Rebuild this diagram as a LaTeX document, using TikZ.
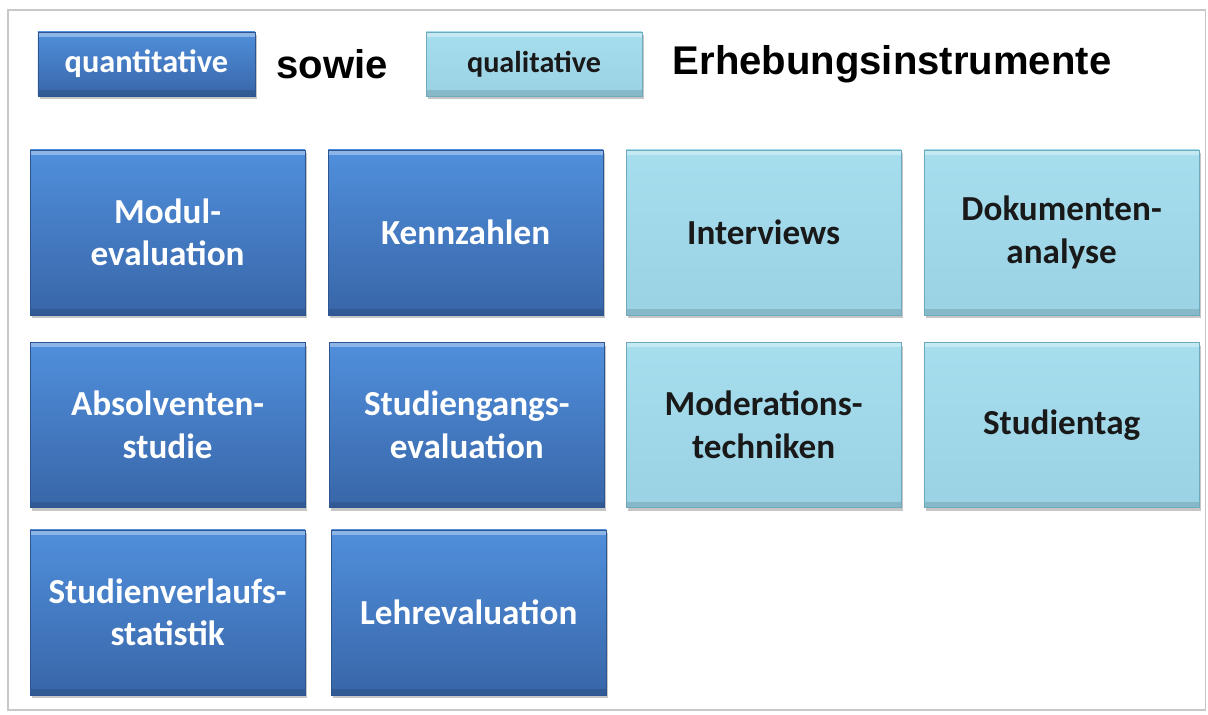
\documentclass[tikz,border=0pt]{standalone}
\usepackage{fontspec}
\setmainfont{Liberation Sans}
\newfontfamily\calfont{Carlito}
\usepackage{tikz}
\usetikzlibrary{positioning,shadows}
\definecolor{quanttop}{RGB}{80,143,220}
\definecolor{quantbot}{RGB}{56,102,168}
\definecolor{quantedge}{RGB}{45,85,145}
\definecolor{qualtop}{RGB}{166,222,238}
\definecolor{qualbot}{RGB}{154,210,228}
\definecolor{qualedge}{RGB}{110,170,190}
\definecolor{frame}{RGB}{200,200,200}
\tikzstyle{bevel}=[drop shadow={shadow xshift=0.04cm, shadow yshift=-0.08cm, opacity=0.45},
    path picture={
      \fill[white, opacity=0.35] (path picture bounding box.north west) rectangle ([yshift=-0.12cm]path picture bounding box.north east);
      \fill[black, opacity=0.12] (path picture bounding box.south west) rectangle ([yshift=0.14cm]path picture bounding box.south east);
    }]
\tikzstyle{quant}=[bevel, draw=quantedge, top color=quanttop, bottom color=quantbot, text=white,
    minimum width=6.875cm, minimum height=4.125cm, align=center,
    font=\calfont\bfseries\fontsize{25}{30}\selectfont]
\tikzstyle{qual}=[quant, draw=qualedge, top color=qualtop, bottom color=qualbot, text=black!90]
\tikzstyle{keyquant}=[quant, minimum width=5.425cm, minimum height=1.6cm, font=\calfont\bfseries\fontsize{23}{26}\selectfont]
\tikzstyle{keyqual}=[qual, minimum width=5.4cm, minimum height=1.6cm, font=\calfont\bfseries\fontsize{21.5}{24}\selectfont]
\tikzstyle{heading}=[font=\bfseries\fontsize{28.5}{32}\selectfont]

\begin{document}
\begin{tikzpicture}[node distance=7.45cm]
    \useasboundingbox (0,0) rectangle (30.2,-17.875);
    \draw [frame, line width=0.8pt] (0.2,-0.25) rectangle (30.13,-17.75);
    %
    \node (quant) [keyquant] at (3.66,-1.6) {quantitative};
    \node (sowie) [heading, right of=quant, node distance=4.64cm] {sowie};
    \node (qual) [keyqual, right of=sowie, node distance=5.05cm] {qualitative};
    \node (erheb) [heading, right of=qual, node distance=8.95cm] {Erhebungsinstrumente};
    %
    \node (modul) [quant] at (4.19,-5.81) {Modul-\\evaluation};
    \node (kenn) [quant, right of=modul] {Kennzahlen};
    \node (interv) [qual, right of=kenn] {Interviews};
    \node (dokum) [qual, right of=interv] {Dokumenten-\\analyse};
    %
    \node (absolv) [quant, below of=modul, node distance=4.81cm] {Absolventen-\\studie};
    \node (studg) [quant, right of=absolv, xshift=0.03cm] {Studiengangs-\\evaluation};
    \node (moder) [qual, right of=absolv, node distance=14.9cm] {Moderations-\\techniken};
    \node (stag) [qual, right of=moder] {Studientag};
    %
    \node (verlauf) [quant, below of=absolv, node distance=4.69cm] {Studienverlaufs-\\statistik};
    \node (lehre) [quant, right of=verlauf, xshift=0.08cm] {Lehrevaluation};
\end{tikzpicture}
\end{document}
